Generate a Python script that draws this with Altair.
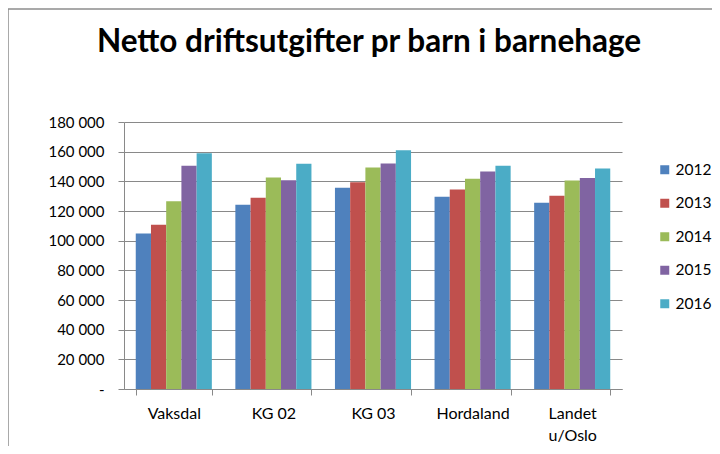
import altair as alt
import pandas as pd

regions = ["Vaksdal", "KG 02", "KG 03", "Hordaland", "Landet u/Oslo"]
years = ["2012", "2013", "2014", "2015", "2016"]
v2012 = [104900, 124200, 135600, 129600, 125500]
v2013 = [110800, 128900, 139300, 134500, 130300]
v2014 = [126600, 142600, 149400, 141800, 140600]
v2015 = [150500, 140800, 152100, 146700, 142200]
v2016 = [159000, 151900, 160900, 150500, 148700]
colors = ["#4F81BD", "#C0504D", "#9BBB59", "#8064A2", "#4BACC6"]
y_ticks = list(range(0, 180001, 20000))
title_text = "Netto driftsutgifter pr barn i barnehage"

series = [v2012, v2013, v2014, v2015, v2016]
rows = []
for yr, vals in zip(years, series):
    for reg, v in zip(regions, vals):
        rows.append({"region": reg, "year": yr, "value": v})
df = pd.DataFrame(rows)

FONT = "Lato"
GRAY = "#898989"

bars = alt.Chart(df).mark_bar().encode(
    x=alt.X("region:N", sort=regions,
            scale=alt.Scale(paddingInner=0.236, paddingOuter=0.118),
            axis=alt.Axis(title=None, labelAngle=0, tickBand="extent", ticks=True,
                          tickSize=6, tickColor=GRAY, domainColor=GRAY, grid=False,
                          labelFontSize=16, labelFont=FONT, labelColor="#000000",
                          labelPadding=10, labelLineHeight=22,
                          labelExpr="datum.value == 'Landet u/Oslo' ? ['Landet', 'u/Oslo'] : datum.label")),
    xOffset=alt.XOffset("year:N", sort=years, scale=alt.Scale(paddingInner=0, paddingOuter=0)),
    y=alt.Y("value:Q", scale=alt.Scale(domain=[0, 180000], nice=False),
            axis=alt.Axis(title=None, values=y_ticks, grid=True, gridColor=GRAY,
                          tickSize=6, tickColor=GRAY, domainColor=GRAY,
                          labelFontSize=15, labelFont=FONT, labelColor="#000000",
                          labelPadding=14,
                          labelExpr="datum.value == 0 ? '-\u00a0\u00a0' : replace(format(datum.value, ','), ',', ' ')")),
    color=alt.Color("year:N", sort=years,
                    scale=alt.Scale(domain=years, range=colors),
                    legend=alt.Legend(title=None, orient="none", legendX=533, legendY=40,
                                      symbolType="square", symbolSize=81, symbolStrokeWidth=0,
                                      labelFontSize=15.5, labelFont=FONT, labelColor="#000000",
                                      rowPadding=16.5, labelOffset=3, padding=0)),
)

one = pd.DataFrame({"a": [0]})
frame_top = alt.Chart(one).mark_rule(color="#8c8c8c", strokeWidth=1.5).encode(
    x=alt.value(-116), x2=alt.value(620), y=alt.value(-113))
frame_left = alt.Chart(one).mark_rule(color="#8c8c8c", strokeWidth=1.5).encode(
    x=alt.value(-116), y=alt.value(-113), y2=alt.value(340))

chart = alt.layer(bars, frame_top, frame_left).properties(
    width=498, height=267,
    title=alt.TitleParams(title_text, font=FONT, fontSize=31.5, fontWeight="bold",
                          color="#000000", anchor="middle", baseline="alphabetic",
                          offset=-75, dx=-4),
    autosize=alt.AutoSizeParams(type="none"),
    padding={"left": 116, "top": 114, "right": 90, "bottom": 57},
).configure_view(stroke=None)

chart.save("out.html", embed_options={"renderer": "svg", "actions": False})
